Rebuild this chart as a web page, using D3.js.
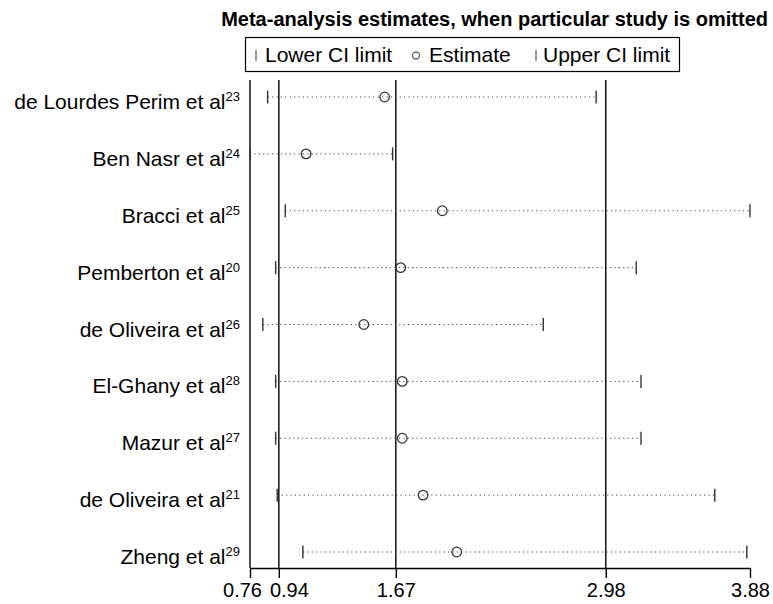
<!DOCTYPE html>
<html>
<head>
<meta charset="utf-8">
<script src="https://cdn.jsdelivr.net/npm/d3@7"></script>
<style>
  body { margin: 0; background: #fff; }
  text { font-family: "Liberation Sans", Arial, sans-serif; fill: #000; }
</style>
</head>
<body>
<svg id="graph" width="773" height="604"></svg>
<script>
"use strict";

// studies omitted one at a time
var studies = ["de Lourdes Perim et al", "Ben Nasr et al", "Bracci et al",
  "Pemberton et al", "de Oliveira et al", "El-Ghany et al", "Mazur et al",
  "de Oliveira et al", "Zheng et al"];
var refs = ["23", "24", "25", "20", "26", "28", "27", "21", "29"];
var lower = [0.87, 0.76, 0.98, 0.92, 0.84, 0.92, 0.92, 0.93, 1.09];
var estimate = [1.60, 1.11, 1.96, 1.70, 1.47, 1.71, 1.71, 1.84, 2.05];
var upper = [2.92, 1.65, 3.88, 3.17, 2.59, 3.20, 3.20, 3.66, 3.86];

var tickValues = [0.76, 0.94, 1.67, 2.98, 3.88];
var refLines = [0.94, 1.67, 2.98];

var svg = d3.select("#graph"),
    margin = {top: 80, left: 250, right: 23, bottom: 36},
    width = 773 - margin.left - margin.right,
    height = 604 - margin.top - margin.bottom;

var data = studies.map(function(s, i) {
  return {i: i, name: s, ref: refs[i], lo: lower[i], est: estimate[i], hi: upper[i]};
});

var x = d3.scaleLinear().domain([0.76, 3.88]).range([0, width]);
var y = d3.scalePoint().domain(d3.range(studies.length)).range([17, height - 16]);

var plot = svg.append("g")
  .attr("transform", "translate(" + margin.left + "," + margin.top + ")");

// title
svg.append("text")
  .attr("x", 768).attr("y", 26)
  .attr("text-anchor", "end")
  .style("font-size", "20px").style("font-weight", "bold")
  .text("Meta-analysis estimates, when particular study is omitted");

// legend
var leg = svg.append("g");
leg.append("rect")
  .attr("x", 245.5).attr("y", 37.5).attr("width", 434).attr("height", 34)
  .attr("fill", "none").attr("stroke", "#000").attr("stroke-width", 1.2);
leg.append("line").attr("x1", 256).attr("x2", 256).attr("y1", 50).attr("y2", 61)
  .attr("stroke", "#333").attr("stroke-width", 1);
leg.append("text").attr("x", 265).attr("y", 62).style("font-size", "21px").text("Lower CI limit");
leg.append("circle").attr("cx", 416).attr("cy", 55.5).attr("r", 3.6)
  .attr("fill", "none").attr("stroke", "#333").attr("stroke-width", 1);
leg.append("text").attr("x", 429).attr("y", 62).style("font-size", "21px").text("Estimate");
leg.append("line").attr("x1", 536).attr("x2", 536).attr("y1", 50).attr("y2", 61)
  .attr("stroke", "#333").attr("stroke-width", 1);
leg.append("text").attr("x", 543).attr("y", 62).style("font-size", "21px").text("Upper CI limit");

// reference lines
plot.selectAll(".refline")
  .data(refLines)
  .join("line")
  .attr("class", "refline")
  .attr("x1", d => x(d)).attr("x2", d => x(d))
  .attr("y1", 0).attr("y2", height)
  .attr("stroke", "#000").attr("stroke-width", 1.4);

// left axis line
plot.append("line")
  .attr("x1", 0).attr("x2", 0).attr("y1", 0).attr("y2", height)
  .attr("stroke", "#000").attr("stroke-width", 1.4);

// bottom axis
var xAxis = plot.append("g")
  .attr("transform", "translate(0," + height + ")")
  .call(d3.axisBottom(x).tickValues(tickValues).tickSize(10).tickSizeOuter(0)
    .tickFormat(d3.format(".2f")));
xAxis.select(".domain").attr("stroke", "#000").attr("stroke-width", 1.4);
xAxis.selectAll(".tick line").attr("stroke", "#000").attr("stroke-width", 1.4);
// the two leftmost labels sit close, nudge them apart like the original
var nudge = {0: -8, 1: 10};
xAxis.selectAll(".tick text")
  .attr("dy", 0).attr("y", 29)
  .attr("x", (d, i) => nudge[i] || 0)
  .style("font-family", "'Liberation Sans', Arial, sans-serif")
  .style("font-size", "20px").attr("fill", "#000");

// CI dotted lines
plot.selectAll(".ci")
  .data(data)
  .join("line")
  .attr("class", "ci")
  .attr("x1", d => x(d.lo)).attr("x2", d => x(d.hi))
  .attr("y1", d => y(d.i)).attr("y2", d => y(d.i))
  .attr("stroke", "#444").attr("stroke-width", 1)
  .attr("stroke-dasharray", "1.2,3.2");

// lower / upper ticks
["lo", "hi"].forEach(function(k) {
  plot.selectAll(".tick-" + k)
    .data(data)
    .join("line")
    .attr("class", "tick-" + k)
    .attr("x1", d => x(d[k])).attr("x2", d => x(d[k]))
    .attr("y1", d => y(d.i) - 6.5).attr("y2", d => y(d.i) + 6.5)
    .attr("stroke", "#333").attr("stroke-width", 1.4);
});

// estimates
plot.selectAll(".est")
  .data(data)
  .join("circle")
  .attr("class", "est")
  .attr("cx", d => x(d.est)).attr("cy", d => y(d.i))
  .attr("r", 4.8)
  .attr("fill", "none").attr("stroke", "#333").attr("stroke-width", 1.3);

// study labels
var labels = plot.selectAll(".lab")
  .data(data)
  .join("text")
  .attr("class", "lab")
  .attr("x", -10).attr("y", d => y(d.i) + 12)
  .attr("text-anchor", "end")
  .style("font-size", "21px");
labels.append("tspan").text(d => d.name);
labels.append("tspan").attr("dy", -8).style("font-size", "13px").text(d => d.ref);
</script>
</body>
</html>
